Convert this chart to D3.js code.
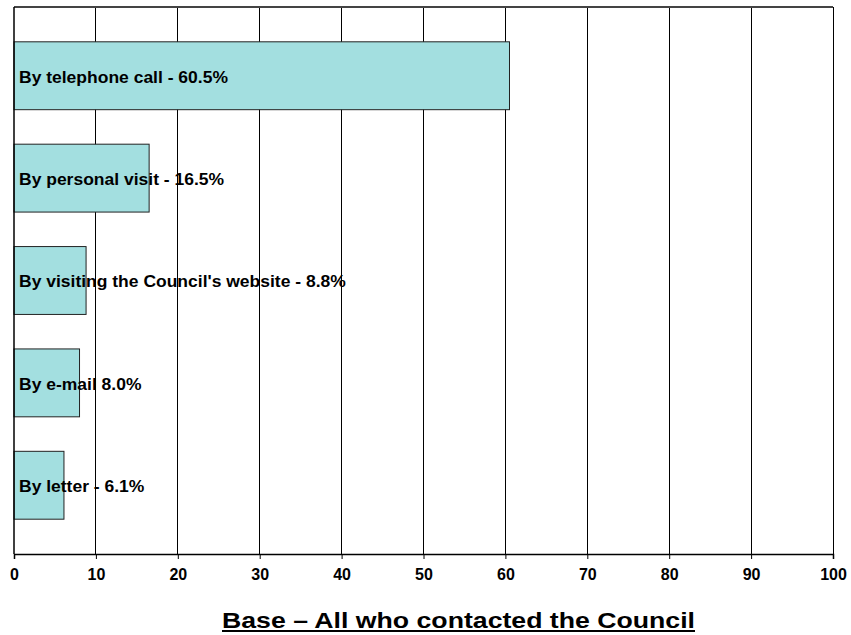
<!DOCTYPE html>
<html>
<head>
<meta charset="utf-8">
<script src="https://cdn.jsdelivr.net/npm/d3@7"></script>
<style>
  html, body { margin: 0; padding: 0; background: #fff; }
  svg { display: block; }
  text { font-family: Arial, "Liberation Sans", sans-serif; font-weight: bold; }
</style>
</head>
<body>
<svg id="chart" width="851" height="635"></svg>
<script>
const categories = [
  "By telephone call - 60.5%",
  "By personal visit - 16.5%",
  "By visiting the Council's website - 8.8%",
  "By e-mail 8.0%",
  "By letter - 6.1%"
];
const values = [60.5, 16.5, 8.8, 8.0, 6.1];
const xTicks = [0, 10, 20, 30, 40, 50, 60, 70, 80, 90, 100];
const titleText = "Base \u2013 All who contacted the Council";

(function () {
const svg = d3.select("#chart");
const pL = 14, pR = 833, pT = 7, pB = 554;

const x = d3.scaleLinear().domain([0, 100]).range([pL, pR]);
const y = d3.scaleBand().domain(categories).range([pT, pB]).paddingInner(0.337).paddingOuter(0.34);

// grid lines
svg.append("g").selectAll("line").data(xTicks.slice(1)).join("line")
  .attr("x1", d => x(d)).attr("x2", d => x(d))
  .attr("y1", pT).attr("y2", pB)
  .attr("stroke", "#000").attr("stroke-width", 1).attr("shape-rendering", "crispEdges");

// top border
svg.append("line").attr("x1", pL).attr("x2", pR).attr("y1", pT).attr("y2", pT)
  .attr("stroke", "#444").attr("stroke-width", 1.2).attr("shape-rendering", "crispEdges");

// bars
svg.append("g").selectAll("rect").data(values).join("rect")
  .attr("x", x(0))
  .attr("y", (d, i) => y(categories[i]))
  .attr("width", d => x(d) - x(0))
  .attr("height", y.bandwidth())
  .attr("fill", "#a3dfe0")
  .attr("stroke", "#222").attr("stroke-width", 1);

// y axis line
svg.append("line").attr("x1", pL).attr("x2", pL).attr("y1", pT).attr("y2", pB)
  .attr("stroke", "#000").attr("stroke-width", 1.5);

// x axis
const xAxis = d3.axisBottom(x).tickValues(xTicks).tickSize(5).tickPadding(10).tickFormat(d3.format("d"));
const gx = svg.append("g").attr("transform", `translate(0,${pB})`).call(xAxis);
gx.select(".domain").attr("stroke", "#000").attr("stroke-width", 1.5);
gx.selectAll(".tick line").attr("stroke", "#000");
gx.selectAll(".tick text").attr("font-size", 16).attr("font-family", "Arial, 'Liberation Sans', sans-serif")
  .attr("font-weight", "bold").attr("fill", "#000");

// bar labels (slightly widened to match reference glyph widths)
const sx = 1.06;
svg.append("g").selectAll("text").data(categories).join("text")
  .attr("transform", d => `translate(${pL + 5},${y(d) + y.bandwidth() / 2 + 1}) scale(${sx},1)`)
  .attr("dy", "0.35em")
  .attr("font-size", 16.5)
  .attr("fill", "#000")
  .text(d => d);

// title
svg.append("text")
  .attr("x", 222).attr("y", 628)
  .attr("font-size", 22)
  .attr("textLength", 473)
  .attr("lengthAdjust", "spacingAndGlyphs")
  .attr("fill", "#000")
  .text(titleText);
// underline
svg.append("line").attr("x1", 222).attr("x2", 695).attr("y1", 631).attr("y2", 631)
  .attr("stroke", "#000").attr("stroke-width", 2);
})();
</script>
</body>
</html>
